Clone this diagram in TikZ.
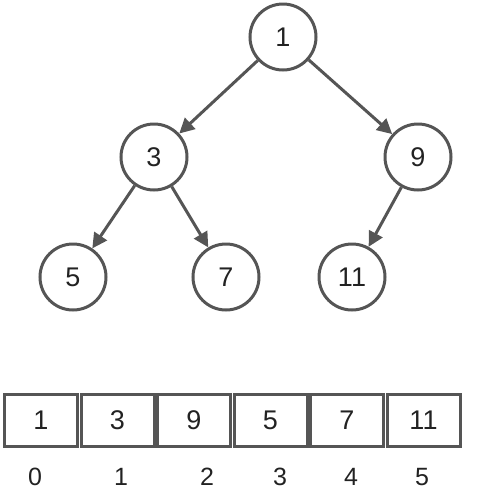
\documentclass[tikz,border=0pt]{standalone}
\usepackage{fontspec}
\setmainfont{Liberation Sans}
\usetikzlibrary{arrows.meta}
\definecolor{ln}{HTML}{555555}
\definecolor{tx}{HTML}{222222}
\begin{document}
\begin{tikzpicture}[x=1pt,y=-1pt,
  tnode/.style={circle,draw=ln,line width=3pt,minimum size=66pt,inner sep=0pt,text=tx,font=\fontsize{27}{27}\selectfont},
  cell/.style={rectangle,draw=ln,line width=3pt,minimum width=73pt,minimum height=52pt,inner sep=0pt,text=tx,font=\fontsize{27}{27}\selectfont},
  idx/.style={text=tx,font=\fontsize{25}{25}\selectfont,inner sep=0pt},
  arr/.style={draw=ln,line width=3pt,-{Triangle[length=15pt,width=15pt]}}]
\useasboundingbox (0,0) rectangle (479,504);
\node[tnode] (n1) at (283,37) {1};
\node[tnode] (n3) at (154,157) {3};
\node[tnode] (n9) at (418,157) {9};
\node[tnode] (n5) at (73,277) {5};
\node[tnode] (n7) at (226,277) {7};
\node[tnode] (n11) at (352,277) {11};
\draw[arr] (n1) -- (n3);
\draw[arr] (n1) -- (n9);
\draw[arr] (n3) -- (n5);
\draw[arr] (n3) -- (n7);
\draw[arr] (n9) -- (n11);
\node[cell] (c0) at (41,420) {1};
\node[cell] (c1) at (117.5,420) {3};
\node[cell] (c2) at (194,420) {9};
\node[cell] (c3) at (270.5,420) {5};
\node[cell] (c4) at (347,420) {7};
\node[cell] (c5) at (423.5,420) {11};
\node[idx] (i0) at (35,477) {0};
\node[idx] (i1) at (121,477) {1};
\node[idx] (i2) at (207,477) {2};
\node[idx] (i3) at (280,477) {3};
\node[idx] (i4) at (351,477) {4};
\node[idx] (i5) at (422,477) {5};
\end{tikzpicture}
\end{document}
